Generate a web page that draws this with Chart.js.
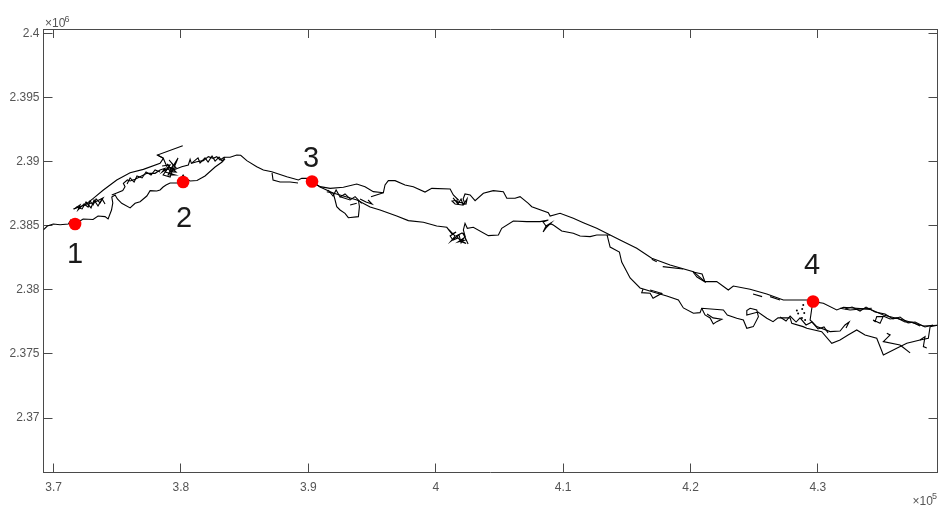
<!DOCTYPE html>
<html><head><meta charset="utf-8">
<style>html,body{margin:0;padding:0;background:#fff}canvas{display:block}</style>
<script src="https://cdn.jsdelivr.net/npm/chart.js@4/dist/chart.umd.min.js"></script>
</head><body><canvas id="c" width="938" height="506"></canvas>
<script>
// All coordinates in km (x: easting, y: northing); axis labels are x 10^5 and x 10^6 m.
const xTickValues=[370,380,390,400,410,420,430];
const xTickLabels=['3.7','3.8','3.9','4','4.1','4.2','4.3'];
const yTickValues=[2370,2375,2380,2385,2390,2395,2400];
const yTickLabels=['2.37','2.375','2.38','2.385','2.39','2.395','2.4'];
const stationNames=['1','2','3','4'];
const stations=[[371.69,2385.14],[380.17,2388.41],[390.29,2388.45],[429.62,2379.09]];
const westShore=[[369.20,2384.67],[369.51,2384.98],[369.98,2385.14],[370.51,2385.08],[371.16,2385.14],[371.35,2385.45],[371.69,2385.14],[372.32,2385.53],[373.10,2385.49],[373.49,2385.76],[374.04,2385.71],[374.28,2385.53],[374.55,2386.23],[374.65,2386.78],[374.57,2387.24],[374.83,2387.40],[375.01,2387.09],[375.35,2386.75],[376.01,2386.39],[376.40,2386.75],[376.79,2386.88],[377.32,2387.32],[377.58,2387.74],[378.10,2387.71],[378.36,2387.79],[378.60,2388.02],[378.83,2388.18],[379.15,2388.34],[379.77,2388.34],[380.01,2388.73],[380.17,2388.96],[380.32,2388.73],[380.72,2388.49],[381.26,2388.53],[381.89,2388.88],[382.68,2389.58],[383.23,2389.97],[383.46,2390.21]];
const ridgeShore=[[379.15,2389.22],[379.40,2389.35],[380.06,2389.61],[380.58,2389.74],[380.72,2390.18],[380.82,2389.87],[381.24,2390.00],[381.76,2390.08],[382.15,2390.39],[382.54,2390.26],[382.81,2390.39],[383.07,2390.13],[383.38,2390.34],[383.86,2390.34],[384.38,2390.52],[384.69,2390.50],[385.17,2390.08],[385.95,2389.61],[386.47,2389.35],[387.13,2389.22],[388.31,2388.83],[389.22,2388.57],[389.48,2388.70],[389.88,2388.70],[390.27,2388.44]];
const ridgeJag=[[380.87,2389.90],[381.34,2390.29],[381.50,2389.90],[381.89,2390.29],[382.13,2389.97],[382.44,2390.44],[382.68,2390.05],[382.99,2390.36],[383.23,2390.05],[383.46,2390.36]];
const midShore=[[374.57,2387.40],[374.96,2387.56],[375.43,2387.74],[375.61,2388.05],[375.48,2388.31],[375.79,2388.57],[376.01,2388.49],[376.40,2388.62],[376.79,2388.83],[377.32,2389.09],[377.97,2389.09],[378.36,2389.35],[378.75,2389.48],[378.52,2389.19],[378.99,2389.51],[378.60,2388.96],[379.15,2388.80],[379.30,2389.27],[378.91,2389.82],[379.38,2389.35],[379.77,2390.29],[379.30,2389.51],[379.62,2389.19],[379.15,2389.22]];
const midJag=[[375.77,2388.26],[376.01,2388.73],[376.32,2388.41],[376.55,2388.88],[376.95,2388.73],[377.26,2389.19],[377.65,2388.96],[377.97,2389.35],[378.36,2389.19]];
const spitTangle=[[378.52,2389.66],[379.15,2389.74],[378.75,2389.19],[379.54,2388.96],[378.99,2388.96],[379.38,2389.74],[379.07,2390.13],[379.62,2389.51],[378.60,2389.35]];
const outerShore=[[371.55,2386.31],[372.47,2386.62],[373.12,2387.14],[373.91,2387.79],[374.96,2388.57],[376.01,2389.14],[377.05,2389.40],[378.36,2389.87],[378.62,2390.26],[378.15,2390.52],[380.14,2391.25]];
const spitLine=[[378.15,2390.52],[378.60,2390.29],[378.91,2389.58],[379.30,2389.04]];
const westTangle=[[371.61,2386.31],[372.08,2386.62],[371.92,2386.23],[372.39,2386.70],[372.71,2386.46],[372.87,2386.93],[373.10,2386.62],[373.34,2387.09],[373.65,2386.78],[373.89,2387.17],[373.57,2387.01],[373.10,2386.78],[372.55,2386.70]];
const westTangleB=[[371.77,2386.46],[372.24,2386.31],[372.55,2386.85],[372.94,2386.39],[373.18,2387.01],[373.49,2386.54],[373.81,2387.09],[374.04,2386.70]];
const loopNearThree=[[387.15,2389.12],[387.23,2388.57],[387.78,2388.41],[388.57,2388.41],[389.19,2388.34]];
const northShore=[[390.29,2388.44],[390.92,2388.05],[391.71,2387.92],[392.75,2388.00],[393.80,2388.26],[394.45,2388.05],[395.10,2387.66],[395.89,2387.58],[396.02,2388.18],[396.28,2388.52],[396.81,2388.52],[397.59,2388.18],[398.24,2388.05],[399.16,2387.63],[399.69,2387.92],[401.13,2387.87],[401.38,2387.40],[401.78,2387.01],[401.28,2386.93],[401.52,2386.70],[402.07,2386.62],[402.30,2386.70],[402.15,2387.09],[402.30,2387.48],[402.70,2387.40],[403.09,2386.96],[403.74,2387.53],[404.52,2387.74],[405.31,2387.66],[405.58,2387.14],[406.23,2387.14],[406.62,2387.27],[407.27,2386.75],[407.54,2386.49],[408.84,2386.02],[408.98,2385.76],[409.76,2385.97],[410.80,2385.58],[411.59,2385.24],[412.64,2384.80],[413.69,2384.28],[414.47,2383.89],[415.78,2383.24],[416.96,2382.46],[418.40,2381.94],[420.23,2381.42],[421.14,2380.64],[422.06,2380.64],[422.97,2379.99],[423.36,2380.30],[424.68,2380.04],[425.99,2379.68],[427.29,2379.21],[429.23,2379.21],[429.62,2379.08],[430.43,2378.95],[431.48,2378.43],[432.00,2378.64],[434.10,2378.48],[435.14,2378.04],[436.71,2377.65],[438.28,2377.18],[439.39,2377.24]];
const northTangle=[[401.36,2387.17],[401.75,2386.70],[401.99,2387.09],[402.15,2386.62],[402.46,2387.09],[402.38,2386.70],[401.52,2386.93]];
const centralShore=[[390.29,2388.44],[390.92,2388.02],[391.94,2387.56],[393.82,2387.01],[394.85,2386.46],[395.63,2386.23],[396.94,2385.76],[397.85,2385.40],[399.03,2385.27],[400.08,2384.98],[400.87,2384.88],[401.28,2384.36],[401.60,2384.51],[401.13,2384.20],[401.36,2383.89],[401.75,2384.05],[402.07,2383.73],[402.38,2383.62],[401.91,2383.89],[401.60,2384.20],[402.07,2384.44],[402.30,2384.20],[402.17,2384.67],[402.30,2385.19],[402.48,2384.80],[402.95,2384.88],[404.13,2384.23],[404.92,2384.28],[405.18,2384.80],[406.09,2385.37],[407.15,2385.32],[408.19,2385.32],[408.84,2385.45],[408.43,2385.29],[408.66,2384.98],[409.05,2385.22],[408.66,2384.83],[408.43,2384.51],[408.66,2384.98],[409.05,2385.14],[409.23,2385.06],[409.89,2384.59],[410.80,2384.41],[411.33,2384.20],[412.12,2384.15],[412.64,2384.28],[413.69,2384.28]];
const centralTangle=[[401.05,2384.67],[401.52,2384.20],[401.20,2383.81],[401.83,2384.28],[401.99,2383.66],[402.22,2384.05],[401.75,2383.73],[402.38,2383.89],[402.15,2384.44],[402.54,2383.58]];
const southShore=[[413.45,2384.28],[413.69,2383.34],[414.42,2382.95],[414.60,2382.17],[415.26,2380.93],[416.04,2380.15],[417.06,2379.83],[418.14,2379.52],[419.05,2379.21],[419.44,2378.59],[420.23,2378.17],[420.75,2378.22],[420.88,2378.56],[422.58,2378.43],[422.89,2378.04],[423.63,2377.78],[424.15,2377.65],[424.42,2377.00],[424.93,2377.13],[425.33,2377.91],[425.20,2378.43],[424.68,2378.56],[424.42,2378.38],[424.42,2378.04],[425.30,2378.27],[425.99,2377.78],[426.48,2377.52],[426.87,2377.81],[427.82,2377.81],[427.95,2377.39],[428.84,2377.13],[429.13,2377.00],[430.30,2376.74],[431.09,2375.83],[431.74,2376.09],[432.37,2376.48],[433.05,2376.87],[433.70,2376.48],[434.62,2376.22],[435.14,2374.92],[436.19,2375.44],[436.98,2375.83],[438.02,2376.09],[438.67,2376.22],[438.81,2377.13],[439.39,2377.24]];
const southJag=[[427.03,2377.88],[427.50,2377.57],[427.82,2377.96],[428.29,2377.49],[428.60,2377.81],[429.07,2377.26],[429.54,2377.49],[430.01,2376.95],[430.48,2377.10],[430.80,2376.64]];
const southSpurA=[[436.45,2375.70],[437.24,2375.08]];
const southSpurB=[[435.41,2376.61],[435.67,2376.48],[435.14,2375.96],[436.45,2375.70]];
const southSpurC=[[438.02,2376.09],[438.41,2376.35],[438.28,2375.57],[438.55,2375.47]];
const innerChannel=[[429.60,2379.08],[429.39,2377.65],[429.91,2377.13],[430.96,2376.74],[431.74,2376.79],[432.13,2377.26],[432.45,2377.49],[432.21,2377.03]];
const eastLoop=[[434.33,2377.65],[434.88,2377.39],[435.12,2377.91],[434.62,2377.91],[434.49,2377.52],[434.33,2377.65]];
const eastBar=[[431.74,2378.56],[432.53,2378.43],[433.40,2378.50],[434.23,2378.56]];
const eastJag=[[435.12,2377.96],[435.67,2377.73],[436.21,2377.81],[436.84,2377.49],[437.39,2377.49],[438.02,2377.18]];
const eastJagB=[[432.13,2378.51],[432.68,2378.66],[433.31,2378.35],[433.78,2378.66],[434.49,2378.27],[435.27,2378.12],[435.90,2377.73],[436.45,2377.88],[437.08,2377.42],[437.63,2377.49],[438.41,2377.10],[439.04,2377.26]];
const loopMidEast=[[420.20,2381.39],[420.51,2381.00],[421.14,2380.61],[420.91,2381.24],[420.20,2381.39]];
const barMidEast=[[417.82,2381.81],[419.42,2381.63]];
const barA=[[416.96,2382.38],[417.35,2382.20]];
const barB=[[426.25,2379.47],[427.03,2379.21]];
const barC=[[424.91,2379.68],[425.62,2379.47]];
const southLoop=[[416.28,2380.07],[416.17,2379.78],[416.83,2379.73],[417.06,2379.34],[417.74,2379.73],[416.83,2379.99]];
const coastTangle=[[420.88,2378.56],[421.14,2378.04],[421.54,2377.81],[421.79,2377.34],[422.06,2377.52],[422.45,2377.70],[421.77,2377.81],[421.30,2378.12]];
const bayLoop=[[391.45,2387.66],[391.96,2387.53],[392.10,2387.01],[392.23,2386.49],[392.49,2386.23],[392.88,2385.97],[393.14,2385.63],[393.93,2385.71],[394.01,2386.49],[393.93,2387.01]];
const bayInnerA=[[392.49,2387.27],[393.28,2387.01],[393.67,2387.27],[394.19,2386.75]];
const bayInnerB=[[393.28,2386.62],[393.80,2386.75]];
const bayZig=[[391.55,2387.79],[391.94,2387.32],[392.18,2387.79],[392.49,2387.24],[392.88,2387.48],[393.28,2387.09]];
const bayZigB=[[394.06,2387.09],[394.53,2386.85],[395.00,2386.70],[394.69,2387.01]];
const baySpur=[[394.92,2387.27],[395.89,2387.58]];
const islets=[[428.35,2378.39],[428.45,2378.15],[428.85,2378.82],[428.77,2378.51],[428.93,2378.19],[428.75,2377.81],[429.0,2377.65]];

const coastLines=[westShore,ridgeShore,ridgeJag,midShore,midJag,spitTangle,outerShore,spitLine,westTangle,westTangleB,loopNearThree,northShore,northTangle,centralShore,centralTangle,southShore,southJag,southSpurA,southSpurB,southSpurC,innerChannel,eastLoop,eastBar,eastJag,eastJagB,loopMidEast,barMidEast,barA,barB,barC,southLoop,coastTangle,bayLoop,bayInnerA,bayInnerB,bayZig,bayZigB,baySpur];
const toPts=a=>a.map(p=>({x:p[0],y:p[1]}));
const axisColor='#4a4a4a', labelColor='#555555', fontFam='"Liberation Sans",Arial,sans-serif';
const labelOffsets=[[0,31],[1,37],[-1,-23],[-1,-36]];

const annot={id:'annot',afterDatasetsDraw(c){
  const g=c.ctx,xs=c.scales.x,ys=c.scales.y,a=c.chartArea;
  g.save();g.fillStyle='#1a1a1a';g.font='29px '+fontFam;g.textAlign='center';g.textBaseline='middle';
  stations.forEach((s,i)=>g.fillText(stationNames[i],xs.getPixelForValue(s[0])+labelOffsets[i][0],ys.getPixelForValue(s[1])+labelOffsets[i][1]));
  g.fillStyle=labelColor;g.textBaseline='alphabetic';g.textAlign='left';
  g.font='12px '+fontFam;g.fillText('×10',a.left+1.5,a.top-2);
  g.font='9px '+fontFam;g.fillText('6',a.left+21,a.top-7);
  g.font='12px '+fontFam;g.fillText('×10',a.right-25,a.bottom+32);
  g.font='9px '+fontFam;g.fillText('5',a.right-5.5,a.bottom+26);
  g.restore();
}};
const commonGrid={drawOnChartArea:false,color:axisColor,tickLength:-9,tickColor:axisColor};
const commonBorder={color:axisColor,width:1};
const setX=s=>{s.ticks=xTickValues.map(v=>({value:v}))};
const setY=s=>{s.ticks=yTickValues.map(v=>({value:v}))};
const noPad=s=>{s.paddingLeft=0;s.paddingRight=0;s.paddingTop=0;s.paddingBottom=0};
new Chart(document.getElementById('c'),{
  type:'scatter',
  data:{datasets:[
    {data:toPts(stations),pointRadius:6.3,pointBackgroundColor:'#ff0000',pointBorderWidth:0,showLine:false,order:0},
    {data:toPts(islets),pointRadius:1,pointBackgroundColor:'#000',pointBorderWidth:0,showLine:false,order:1}
  ].concat(coastLines.map(l=>({data:toPts(l),showLine:true,borderColor:'#000',borderWidth:1.1,pointRadius:0,tension:0,order:2})))},
  plugins:[annot],
  options:{responsive:false,animation:false,
    layout:{autoPadding:false,padding:{left:0,top:29,right:0.5,bottom:0}},
    plugins:{legend:{display:false},tooltip:{enabled:false}},
    scales:{
      x:{type:'linear',position:'bottom',min:369.21,max:439.39,afterBuildTicks:setX,afterFit:s=>{s.height=33.5;noPad(s)},
        grid:commonGrid,border:commonBorder,
        ticks:{autoSkip:false,maxRotation:0,padding:17,color:labelColor,font:{size:12,family:fontFam},callback:(v,i)=>xTickLabels[i]}},
      y:{type:'linear',position:'left',min:2365.75,max:2400.35,afterBuildTicks:setY,afterFit:s=>{s.width=43.5;noPad(s)},
        grid:commonGrid,border:commonBorder,
        ticks:{autoSkip:false,padding:13,color:labelColor,font:{size:12,family:fontFam},callback:(v,i)=>yTickLabels[i]}},
      x2:{type:'linear',position:'top',min:369.21,max:439.39,afterBuildTicks:setX,afterFit:s=>{s.height=0;noPad(s)},
        grid:commonGrid,border:commonBorder,ticks:{display:false}},
      y2:{type:'linear',position:'right',min:2365.75,max:2400.35,afterBuildTicks:setY,afterFit:s=>{s.width=0;noPad(s)},
        grid:commonGrid,border:commonBorder,ticks:{display:false}}
    }
  }
});
</script></body></html>
